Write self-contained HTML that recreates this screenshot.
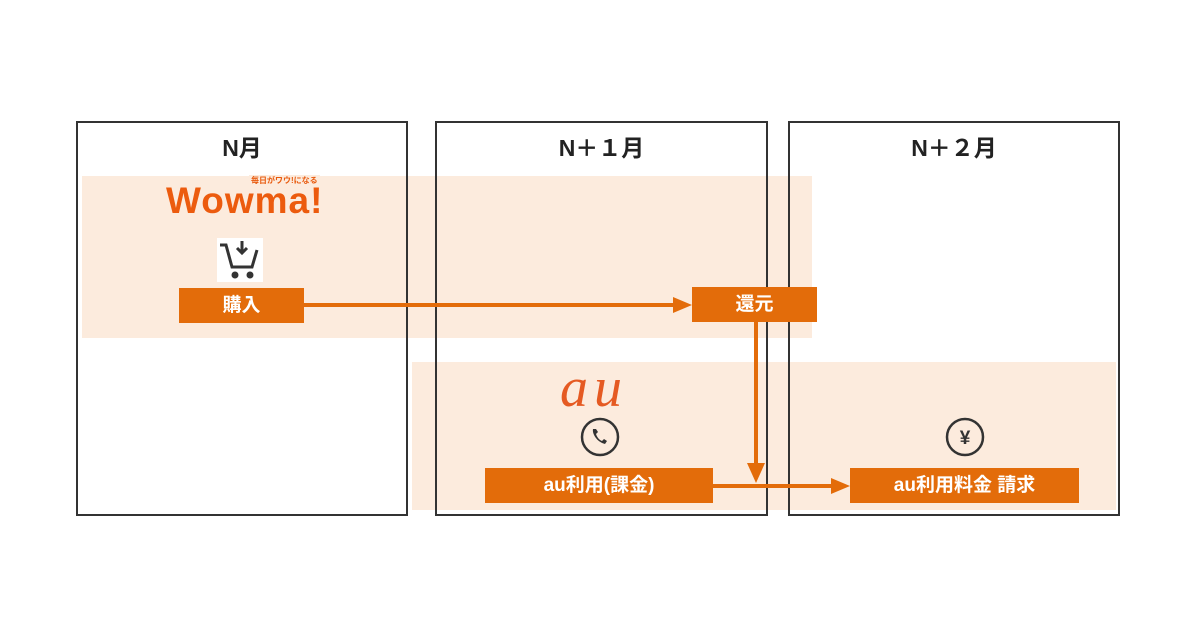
<!DOCTYPE html>
<html><head><meta charset="utf-8"><style>
body{margin:0;width:1200px;height:630px;background:#fff;position:relative;overflow:hidden;font-family:"Liberation Sans","Noto Sans CJK JP",sans-serif}
.a{position:absolute}
.band{background:#fcebdd}
.box{border:2px solid #333;box-sizing:border-box}
.t{font-weight:bold;font-size:23px;color:#222;text-align:center}
.btn{background:#e36c0a;color:#fff;font-weight:bold;font-size:19px;text-align:center;line-height:35px}
</style></head><body>
<div class="a band" style="left:82px;top:176px;width:730px;height:162px"></div>
<div class="a band" style="left:412px;top:362px;width:704px;height:148px"></div>
<div class="a box" style="left:76px;top:121px;width:332px;height:395px"></div>
<div class="a box" style="left:435px;top:121px;width:333px;height:395px"></div>
<div class="a box" style="left:788px;top:121px;width:332px;height:395px"></div>
<div class="a t" style="left:76px;top:129px;width:332px">N月</div>
<div class="a t" style="left:435px;top:129px;width:333px">N＋１月</div>
<div class="a t" style="left:788px;top:129px;width:332px">N＋２月</div>
<div class="a" style="left:166px;top:180px;font-size:37px;font-weight:bold;color:#ec5b0e;letter-spacing:1px">Wowma!</div>
<div class="a" style="left:249px;top:175px;font-size:8px;color:#e8590c;font-weight:bold;background:#fcebdd;padding:0 2px">毎日がワウ!になる</div>
<div class="a" style="left:217px;top:238px;width:46px;height:44px;background:#fff"></div>
<svg class="a" style="left:217px;top:238px" width="46" height="44" viewBox="0 0 46 44" fill="none" stroke="#333" stroke-width="3">
<path d="M3 7h6l6 22h20l5-17"/><path d="M25 3v11M20 10l5 5 5-5"/><circle cx="18" cy="37" r="2" fill="#333"/><circle cx="33" cy="37" r="2" fill="#333"/></svg>
<div class="a btn" style="left:179px;top:288px;width:125px">購入</div>
<div class="a btn" style="left:692px;top:287px;width:125px">還元</div>
<div class="a btn" style="left:485px;top:468px;width:228px">au利用(課金)</div>
<div class="a btn" style="left:850px;top:468px;width:229px">au利用料金 請求</div>
<div class="a" style="left:560px;top:356px;font-family:'Liberation Serif',serif;font-style:italic;font-size:56px;color:#e55a22;letter-spacing:6px">au</div>
<svg class="a" style="left:0;top:0" width="1200" height="630">
<g fill="#e36c0a" stroke="#e36c0a">
<line x1="304" y1="305" x2="675" y2="305" stroke-width="4"/><polygon points="673,297 692,305 673,313" stroke="none"/>
<line x1="756" y1="322" x2="756" y2="465" stroke-width="4"/><polygon points="747,463 756,483 765,463" stroke="none"/>
<line x1="713" y1="486" x2="833" y2="486" stroke-width="4"/><polygon points="831,478 850,486 831,494" stroke="none"/>
</g>
<circle cx="600" cy="437" r="18" fill="none" stroke="#333" stroke-width="2.5"/>
<path d="M593 429c-1 5 4 13 12 15l2-3-3-2-2 2c-3-1-5-4-6-7l2-2-2-3z" fill="#333"/>
<circle cx="965" cy="437" r="18" fill="none" stroke="#333" stroke-width="2.5"/>
<text x="965" y="444" font-size="19" font-weight="bold" text-anchor="middle" fill="#333" font-family="Liberation Sans,sans-serif">¥</text>
</svg>
</body></html>
